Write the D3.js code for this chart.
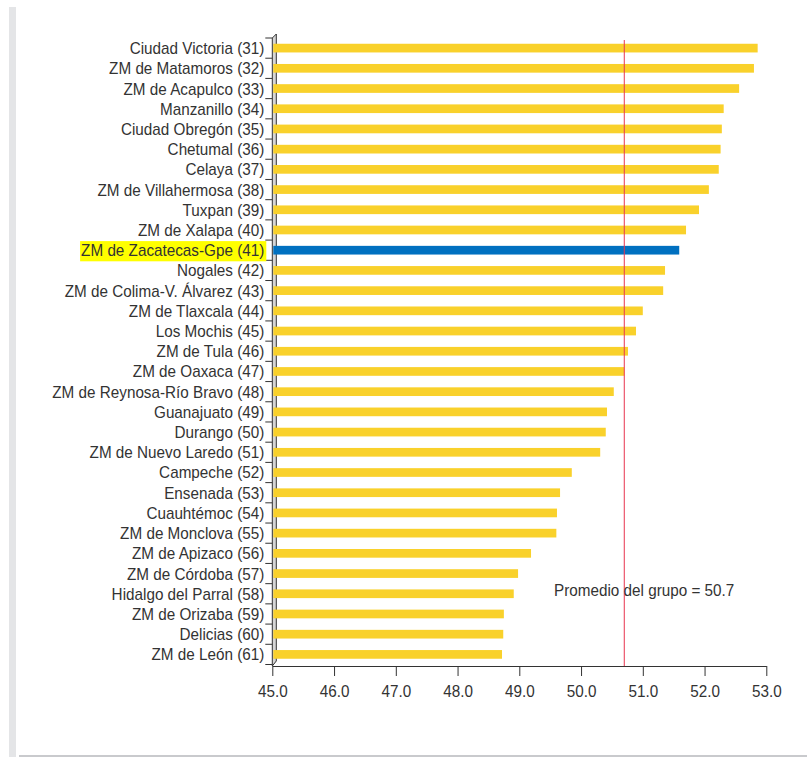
<!DOCTYPE html>
<html>
<head>
<meta charset="utf-8">
<script src="https://cdn.jsdelivr.net/npm/d3@7"></script>
<style>
  html, body { margin: 0; padding: 0; background: #fff; }
  svg { display: block; font-family: "Liberation Sans", Arial, sans-serif; }
</style>
</head>
<body>
<svg id="chart" width="807" height="757"></svg>
<script>
// Cities ranked 31–61 and their index values
const categories = [
  "Ciudad Victoria (31)", "ZM de Matamoros (32)", "ZM de Acapulco (33)", "Manzanillo (34)",
  "Ciudad Obregón (35)", "Chetumal (36)", "Celaya (37)", "ZM de Villahermosa (38)",
  "Tuxpan (39)", "ZM de Xalapa (40)", "ZM de Zacatecas-Gpe (41)", "Nogales (42)",
  "ZM de Colima-V. Álvarez (43)", "ZM de Tlaxcala (44)", "Los Mochis (45)", "ZM de Tula (46)",
  "ZM de Oaxaca (47)", "ZM de Reynosa-Río Bravo (48)", "Guanajuato (49)", "Durango (50)",
  "ZM de Nuevo Laredo (51)", "Campeche (52)", "Ensenada (53)", "Cuauhtémoc (54)",
  "ZM de Monclova (55)", "ZM de Apizaco (56)", "ZM de Córdoba (57)", "Hidalgo del Parral (58)",
  "ZM de Orizaba (59)", "Delicias (60)", "ZM de León (61)"
];
const values = [
  52.86, 52.80, 52.56, 52.31,
  52.28, 52.26, 52.23, 52.07,
  51.91, 51.70, 51.59, 51.36,
  51.33, 51.00, 50.89, 50.76,
  50.70, 50.53, 50.42, 50.40,
  50.31, 49.85, 49.66, 49.61,
  49.60, 49.19, 48.98, 48.91,
  48.75, 48.74, 48.72
];
const highlighted = "ZM de Zacatecas-Gpe (41)";
const groupAverage = 50.7;
const averageLabel = "Promedio del grupo = 50.7";
const xTicks = [45, 46, 47, 48, 49, 50, 51, 52, 53];

// Text is set slightly condensed
const FONT_SIZE = 16.6;
const SQUEEZE = 0.92;

const svg = d3.select("#chart");

// Page frame: grey strip on the left and a rule along the bottom
svg.append("rect").attr("x", 9).attr("y", 7).attr("width", 7).attr("height", 750).attr("fill", "#e4e5e7");
svg.append("rect").attr("x", 19).attr("y", 755).attr("width", 788).attr("height", 2).attr("fill", "#c9cacd");

const x = d3.scaleLinear().domain([45, 53]).range([272.3, 766.3]);
const y = d3.scaleBand().domain(categories).range([38, 664.5]).paddingInner(0.57).paddingOuter(0.285);
const step = y.step();
const bandTop = d => y(d) - y.paddingInner() * step / 2;

const xAxisY = 666;
const wallDepth = 4;

// Axis wall (pseudo-3D) behind the category axis
const x0 = x(45);
svg.append("path")
  .attr("d", `M${x0},${bandTop(categories[0])} L${x0 + wallDepth},${bandTop(categories[0]) - 4} L${x0 + wallDepth},${xAxisY - 5} L${x0},${xAxisY} Z`)
  .attr("fill", "#d6d6d6").attr("stroke", "#333").attr("stroke-width", 1);

// Bars
svg.append("g").selectAll("rect")
  .data(categories)
  .join("rect")
  .attr("x", x0 + 1)
  .attr("y", d => y(d))
  .attr("width", (d, i) => x(values[i]) - x0 - 1)
  .attr("height", y.bandwidth())
  .attr("fill", d => d === highlighted ? "#0070c0" : "#f9d12b");

// Category ticks at band boundaries
const boundaries = categories.map(bandTop).concat([bandTop(categories[categories.length - 1]) + step]);
svg.append("g").selectAll("line")
  .data(boundaries)
  .join("line")
  .attr("x1", x0 - 7).attr("x2", x0)
  .attr("y1", d => d).attr("y2", d => d)
  .attr("stroke", "#333").attr("stroke-width", 1);

// Highlight behind the selected city's label
const labelX = x0 - 8;
const hl = svg.append("rect").attr("fill", "#ffff00");

// Category labels
const labels = svg.append("g").selectAll("text")
  .data(categories)
  .join("text")
  .attr("transform", d => `translate(${labelX},${y(d) + y.bandwidth() / 2}) scale(${SQUEEZE},1)`)
  .attr("dy", "0.36em")
  .attr("text-anchor", "end")
  .attr("font-size", FONT_SIZE)
  .attr("fill", "#333")
  .text(d => d);

labels.filter(d => d === highlighted).each(function () {
  const w = this.getBBox().width * SQUEEZE;
  hl.attr("x", labelX - w - 1).attr("y", bandTop(highlighted) + 1)
    .attr("width", w + 3).attr("height", step);
});

// Value axis
const xAxis = d3.axisBottom(x).tickValues(xTicks).tickFormat(d3.format(".1f"))
  .tickSize(10).tickPadding(9).tickSizeOuter(0);
const gx = svg.append("g").attr("transform", `translate(0,${xAxisY})`).call(xAxis);
gx.select(".domain").attr("stroke", "#333");
gx.selectAll(".tick line").attr("stroke", "#333");
gx.selectAll(".tick text").attr("font-size", FONT_SIZE).attr("fill", "#333")
  .attr("font-family", "Liberation Sans, Arial, sans-serif")
  .attr("transform", `scale(${SQUEEZE},1)`);

// Group average reference line and its label
svg.append("line")
  .attr("x1", x(groupAverage)).attr("x2", x(groupAverage))
  .attr("y1", 40).attr("y2", xAxisY)
  .attr("stroke", "#e8354f").attr("stroke-width", 1);
svg.append("text")
  .attr("transform", `translate(554,596) scale(${SQUEEZE},1)`)
  .attr("font-size", FONT_SIZE).attr("fill", "#333")
  .text(averageLabel);
</script>
</body>
</html>
